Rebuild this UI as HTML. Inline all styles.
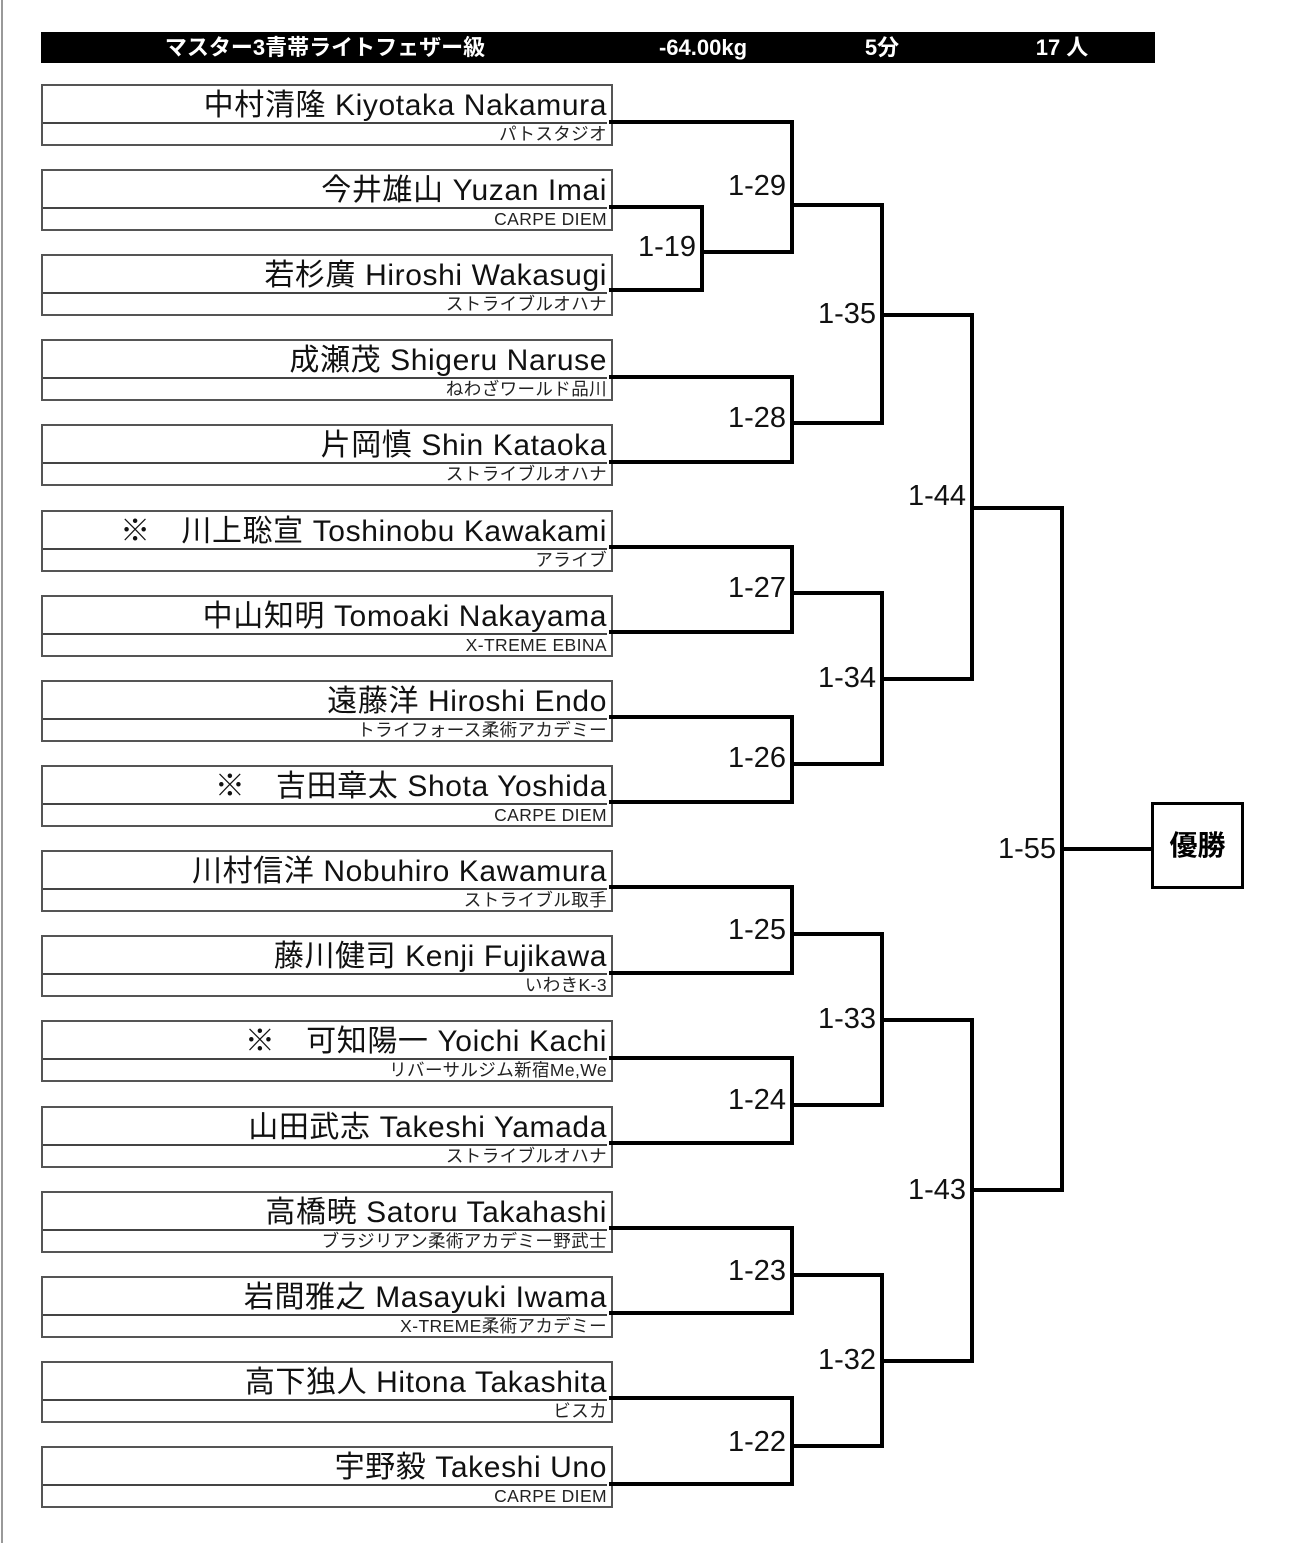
<!DOCTYPE html>
<html><head><meta charset="utf-8"><style>
body{margin:0;width:1300px;height:1543px;background:#fff;position:relative;overflow:hidden;font-family:"Liberation Sans Narrow","Liberation Sans","Noto Sans CJK JP",sans-serif;}
.hdr{position:absolute;left:41px;top:32px;width:1114px;height:31px;background:#000;}
.ht{position:absolute;top:32px;height:31px;line-height:31px;color:#fff;font-weight:bold;font-size:22px;transform:translateX(-50%);white-space:nowrap;}
.box{position:absolute;left:41px;width:568px;height:58px;border:2px solid #555;}
.nm{position:absolute;left:0;right:4px;top:0;height:36px;border-bottom:2px solid #444;text-align:right;font-size:30px;letter-spacing:0.6px;line-height:40px;white-space:nowrap;color:#111;}
.tm{position:absolute;right:4px;top:38px;font-size:17.5px;letter-spacing:0.4px;line-height:20px;color:#222;white-space:nowrap;}
.lb{position:absolute;font-size:29px;line-height:30px;text-align:right;width:80px;color:#111;}
.win{position:absolute;left:1151px;top:802px;width:87px;height:81px;border:3px solid #000;font-weight:bold;font-size:28px;line-height:81px;text-align:center;font-family:"Liberation Sans","Noto Sans CJK JP",sans-serif;}
</style></head><body>
<div style="position:absolute;left:1px;top:0;width:2px;height:1543px;background:#999"></div>
<div class="hdr"></div>
<div class="ht" style="left:325px">マスター3青帯ライトフェザー級</div>
<div class="ht" style="left:703px">-64.00kg</div>
<div class="ht" style="left:882px">5分</div>
<div class="ht" style="left:1062px">17 人</div>

<div class="box" style="top:84px"><div class="nm">中村清隆 Kiyotaka Nakamura</div><div class="tm">パトスタジオ</div></div>
<div class="box" style="top:169px"><div class="nm">今井雄山 Yuzan Imai</div><div class="tm">CARPE DIEM</div></div>
<div class="box" style="top:254px"><div class="nm">若杉廣 Hiroshi Wakasugi</div><div class="tm">ストライブルオハナ</div></div>
<div class="box" style="top:339px"><div class="nm">成瀬茂 Shigeru Naruse</div><div class="tm">ねわざワールド品川</div></div>
<div class="box" style="top:424px"><div class="nm">片岡慎 Shin Kataoka</div><div class="tm">ストライブルオハナ</div></div>
<div class="box" style="top:510px"><div class="nm">※　川上聡宣 Toshinobu Kawakami</div><div class="tm">アライブ</div></div>
<div class="box" style="top:595px"><div class="nm">中山知明 Tomoaki Nakayama</div><div class="tm">X-TREME EBINA</div></div>
<div class="box" style="top:680px"><div class="nm">遠藤洋 Hiroshi Endo</div><div class="tm">トライフォース柔術アカデミー</div></div>
<div class="box" style="top:765px"><div class="nm">※　吉田章太 Shota Yoshida</div><div class="tm">CARPE DIEM</div></div>
<div class="box" style="top:850px"><div class="nm">川村信洋 Nobuhiro Kawamura</div><div class="tm">ストライブル取手</div></div>
<div class="box" style="top:935px"><div class="nm">藤川健司 Kenji Fujikawa</div><div class="tm">いわきK-3</div></div>
<div class="box" style="top:1020px"><div class="nm">※　可知陽一 Yoichi Kachi</div><div class="tm">リバーサルジム新宿Me,We</div></div>
<div class="box" style="top:1106px"><div class="nm">山田武志 Takeshi Yamada</div><div class="tm">ストライブルオハナ</div></div>
<div class="box" style="top:1191px"><div class="nm">高橋暁 Satoru Takahashi</div><div class="tm">ブラジリアン柔術アカデミー野武士</div></div>
<div class="box" style="top:1276px"><div class="nm">岩間雅之 Masayuki Iwama</div><div class="tm">X-TREME柔術アカデミー</div></div>
<div class="box" style="top:1361px"><div class="nm">高下独人 Hitona Takashita</div><div class="tm">ビスカ</div></div>
<div class="box" style="top:1446px"><div class="nm">宇野毅 Takeshi Uno</div><div class="tm">CARPE DIEM</div></div>

<svg width="1300" height="1543" style="position:absolute;left:0;top:0" fill="none" stroke="#000" stroke-width="4" stroke-linecap="square">
<polyline points="611,207 702,207 702,290 611,290"/>
<polyline points="611,122 792,122 792,252 702,252"/>
<line x1="792" y1="205" x2="882" y2="205"/>
<polyline points="611,377 792,377 792,462 611,462"/>
<line x1="792" y1="423" x2="882" y2="423"/>
<polyline points="882,205 882,423"/>
<line x1="882" y1="315" x2="972" y2="315"/>
<polyline points="611,547 792,547 792,632 611,632"/>
<line x1="792" y1="593" x2="882" y2="593"/>
<polyline points="611,717 792,717 792,802 611,802"/>
<line x1="792" y1="764" x2="882" y2="764"/>
<polyline points="882,593 882,764"/>
<line x1="882" y1="679" x2="972" y2="679"/>
<polyline points="972,315 972,679"/>
<line x1="972" y1="508" x2="1062" y2="508"/>
<polyline points="611,887 792,887 792,973 611,973"/>
<line x1="792" y1="934" x2="882" y2="934"/>
<polyline points="611,1058 792,1058 792,1143 611,1143"/>
<line x1="792" y1="1105" x2="882" y2="1105"/>
<polyline points="882,934 882,1105"/>
<line x1="882" y1="1020" x2="972" y2="1020"/>
<polyline points="611,1228 792,1228 792,1313 611,1313"/>
<line x1="792" y1="1275" x2="882" y2="1275"/>
<polyline points="611,1398 792,1398 792,1484 611,1484"/>
<line x1="792" y1="1446" x2="882" y2="1446"/>
<polyline points="882,1275 882,1446"/>
<line x1="882" y1="1361" x2="972" y2="1361"/>
<polyline points="972,1020 972,1361"/>
<line x1="972" y1="1190" x2="1062" y2="1190"/>
<polyline points="1062,508 1062,1190"/>
<line x1="1062" y1="849" x2="1151" y2="849"/>
</svg>

<div class="lb" style="left:706px;top:171px">1-29</div>
<div class="lb" style="left:616px;top:232px">1-19</div>
<div class="lb" style="left:796px;top:299px">1-35</div>
<div class="lb" style="left:706px;top:403px">1-28</div>
<div class="lb" style="left:886px;top:481px">1-44</div>
<div class="lb" style="left:706px;top:573px">1-27</div>
<div class="lb" style="left:796px;top:663px">1-34</div>
<div class="lb" style="left:706px;top:743px">1-26</div>
<div class="lb" style="left:976px;top:834px">1-55</div>
<div class="lb" style="left:706px;top:915px">1-25</div>
<div class="lb" style="left:796px;top:1004px">1-33</div>
<div class="lb" style="left:706px;top:1085px">1-24</div>
<div class="lb" style="left:886px;top:1175px">1-43</div>
<div class="lb" style="left:706px;top:1256px">1-23</div>
<div class="lb" style="left:796px;top:1345px">1-32</div>
<div class="lb" style="left:706px;top:1427px">1-22</div>

<div class="win">優勝</div>
</body></html>
